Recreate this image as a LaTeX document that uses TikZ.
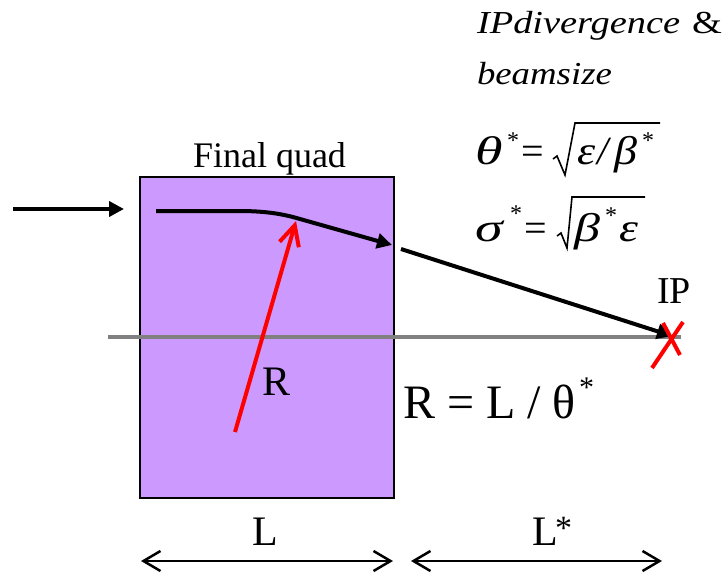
\documentclass[tikz,border=0pt]{standalone}
\usepackage{fontspec}
\setmainfont{Liberation Serif}[ItalicFont={Liberation Serif Italic}, BoldFont={Liberation Serif Bold}]
\usetikzlibrary{arrows.meta}
\definecolor{quadfill}{HTML}{CC99FF}
\definecolor{axisgray}{HTML}{808080}
\newcommand{\fsz}[1]{\fontsize{#1}{#1}\selectfont}
\newcommand{\wide}[2]{\scalebox{#1}[1]{#2}}
\tikzset{
  lbl/.style={inner sep=0pt, outer sep=0pt, anchor=base west},
  greek/.style={lbl, font=\fsz{40}\itshape},
  star/.style={lbl, font=\fsz{24}},
  beam/.style={line width=4pt, -{Triangle[length=15pt,width=15pt]}},
  dimarrow/.style={line width=2.5pt, {Straight Barb[length=17pt,width=20pt]}-{Straight Barb[length=17pt,width=20pt]}},
  radius/.style={red, line width=4pt, -{Straight Barb[length=20pt,width=20pt]}},
  radical/.style={line width=1.6pt, line join=miter},
}
\begin{document}
\begin{tikzpicture}[x=1pt,y=-1pt]
\useasboundingbox (0,0) rectangle (724,574);
% quad box
\node[draw=black, line width=2pt, fill=quadfill, minimum width=254pt, minimum height=321pt, inner sep=0pt, anchor=north west] (quad) at (139,176) {};
\node[lbl, font=\fsz{36}] (fq) at (193,167) {Final quad};
% axis
\coordinate (axL) at (108,337);
\coordinate (axR) at (681,337);
\draw[axisgray, line width=4.5pt] (axL) -- (axR);
% incoming arrow
\coordinate (inA) at (13,209);
\coordinate (inB) at (124,209);
\draw[beam] (inA) -- (inB);
% curved beam in quad
\coordinate (c0) at (156,211);
\coordinate (c1) at (238,211);
\coordinate (c2) at (300,219);
\coordinate (c3) at (392,245);
\draw[beam] (c0) -- (c1) .. controls (262,211) and (280,213) .. (c2) -- (c3);
% drift to IP
\coordinate (d0) at (401,249);
\coordinate (ip) at (672,336);
\draw[beam] (d0) -- (ip);
% red radius arrow
\coordinate (r0) at (235,432);
\coordinate (r1) at (296,221);
\draw[radius] (r0) -- (r1);
\node[lbl, font=\fsz{42}] (rl) at (262,395) {R};
% IP cross
\coordinate (x1a) at (652,368);
\coordinate (x1b) at (683,322);
\coordinate (x2a) at (663,323);
\coordinate (x2b) at (680,355);
\draw[red, line width=4pt] (x1a) -- (x1b);
\draw[red, line width=4pt] (x2a) -- (x2b);
\node[lbl, font=\fsz{38}] (iplbl) at (657,303) {IP};
% R = L / theta*
\node[lbl, font=\fsz{48}] (req) at (403,418) {R = L / θ};
\node[lbl, font=\fsz{30}] (reqs) at (579,397) {*};
% dimension arrows
\coordinate (dL0) at (141,561);
\coordinate (dL1) at (393,561);
\coordinate (dS0) at (411,561);
\coordinate (dS1) at (662,561);
\draw[dimarrow] (dL0) -- (dL1);
\draw[dimarrow] (dS0) -- (dS1);
\node[lbl, font=\fsz{42}] (Llbl) at (252,545) {L};
\node[lbl, font=\fsz{42}] (Lslbl) at (532,545) {L};
\node[lbl, font=\fsz{34}] (Lsst) at (555,539) {*};
% italic text
\node[lbl, font=\fsz{32}\itshape] (t1) at (477,33) {\wide{1.2}{IPdivergence}};
\node[lbl, font=\fsz{32}] (t1b) at (692,33) {\wide{1.2}{\&}};
\node[lbl, font=\fsz{32}\itshape] (t2) at (477,84) {\wide{1.15}{beamsize}};
% theta line
\node[greek] (th) at (475,164) {\wide{1.4}{θ}};
\node[star] (ths) at (507,148) {*};
\node[lbl, font=\fsz{40}] (eq1) at (521,164) {=};
\draw[radical] (553,159) -- (557,156) -- (565,175) -- (575,123) -- (660,123);
\node[greek] (eps1) at (577,164) {\wide{1.15}{ε}};
\node[greek] (sl1) at (597,164) {/};
\node[greek] (be1) at (614,164) {\wide{1.15}{β}};
\node[star] (be1s) at (642,148) {*};
% sigma line
\node[greek] (sg) at (475,241) {\wide{1.4}{σ}};
\node[star] (sgs) at (510,221) {*};
\node[lbl, font=\fsz{40}] (eq2) at (524,241) {=};
\draw[radical] (557,236) -- (561,233) -- (567,248) -- (572,197) -- (645,197);
\node[greek] (be2) at (574,241) {\wide{1.3}{β}};
\node[star] (be2s) at (605,223) {*};
\node[greek] (eps2) at (619,241) {\wide{1.2}{ε}};
\end{tikzpicture}
\end{document}
